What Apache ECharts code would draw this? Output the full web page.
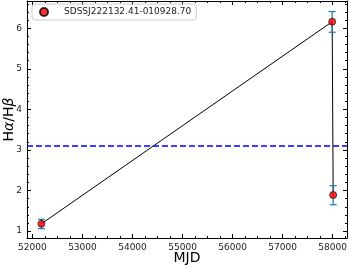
<!DOCTYPE html>
<html><head><meta charset="utf-8">
<script src="https://cdn.jsdelivr.net/npm/echarts@6/dist/echarts.min.js"></script>
<style>html,body{margin:0;padding:0;background:#fff}#c{width:349px;height:268px}</style>
</head><body><div id="c"></div>
<script>
const seriesName = 'SDSSJ222132.41-010928.70';
const mjd = [52180, 57990, 58010];
const ratio = [1.18, 6.16, 1.89];
const errLow = [1.06, 5.90, 1.65];
const errHigh = [1.29, 6.41, 2.12];
const refLine = 3.1;
const xMajor = [52000, 53000, 54000, 55000, 56000, 57000, 58000];
const xMinor = [52250, 52500, 52750, 53250, 53500, 53750, 54250, 54500, 54750, 55250, 55500, 55750, 56250, 56500, 56750, 57250, 57500, 57750, 58250];
const yMajor = [1, 2, 3, 4, 5, 6];
const yMinor = [1.2, 1.4, 1.6, 1.8, 2.2, 2.4, 2.6, 2.8, 3.2, 3.4, 3.6, 3.8, 4.2, 4.4, 4.6, 4.8, 5.2, 5.4, 5.6, 5.8, 6.2, 6.4, 6.6];
const xRange = [51892, 58286];
const yRange = [0.83, 6.67];

const pts = mjd.map((x, i) => [x, ratio[i]]);
const errs = mjd.map((x, i) => [x, errLow[i], errHigh[i]]);
const font = 'DejaVu Sans';
const lineStyle = {color: '#000', width: 1};

function ax(pos, range, vals, len, showLine, showLabel) {
  return {type: 'value', position: pos, min: range[0], max: range[1], gridIndex: 0,
    axisLine: {show: showLine, lineStyle: lineStyle},
    axisTick: {show: true, inside: true, length: len, customValues: vals, lineStyle: {color: '#000', width: 1}},
    axisLabel: {show: showLabel, customValues: vals, color: '#222', fontFamily: font, fontSize: 9, margin: 5,
      formatter: function (v) { return String(v); }},
    splitLine: {show: false}};
}
const xAxes = [ax('bottom', xRange, xMajor, 4, true, true), ax('bottom', xRange, xMinor, 2, false, false),
               ax('top', xRange, xMajor, 4, true, false), ax('top', xRange, xMinor, 2, false, false)];
Object.assign(xAxes[0], {name: 'MJD', nameLocation: 'middle', nameGap: 20, nameMoveOverlap: false,
  nameTextStyle: {fontFamily: font, fontSize: 14, color: '#000', verticalAlign: 'middle'}});
const yAxes = [ax('left', yRange, yMajor, 4, true, true), ax('left', yRange, yMinor, 2, false, false),
               ax('right', yRange, yMajor, 4, true, false), ax('right', yRange, yMinor, 2, false, false)];
Object.assign(yAxes[0], {name: '{n|H}{i|α}{n|/H}{i|β}', nameLocation: 'middle', nameGap: 18, nameRotate: 90,
  nameMoveOverlap: false,
  nameTextStyle: {verticalAlign: 'middle', rich: {
    n: {fontFamily: font, fontSize: 14, color: '#000'},
    i: {fontFamily: font, fontSize: 14, fontStyle: 'italic', color: '#000'}}}});

const chart = echarts.init(document.getElementById('c'));
chart.setOption({
  animation: false,
  backgroundColor: '#fff',
  grid: {left: 27, right: 2, top: 1, bottom: 30, containLabel: false, outerBoundsMode: 'none'},
  xAxis: xAxes,
  yAxis: yAxes,
  legend: {left: 32, top: 4, itemGap: 0, padding: [3, 5, 3, 7], borderColor: '#ccc', borderWidth: 1, borderRadius: 3,
    itemWidth: 8, itemHeight: 8, data: [{name: seriesName, icon: 'circle'}],
    textStyle: {fontFamily: font, fontSize: 9, color: '#222', padding: [0, 0, 0, 11]}},
  series: [
    {type: 'line', data: pts, xAxisIndex: 0, yAxisIndex: 0, showSymbol: false, symbol: 'none',
      lineStyle: {color: '#000', width: 1}, z: 2, silent: true,
      markLine: {silent: true, symbol: 'none', label: {show: false},
        lineStyle: {color: '#0000ff', width: 1.6, type: [6, 3]},
        data: [{yAxis: refLine}]}},
    {type: 'custom', xAxisIndex: 0, yAxisIndex: 0, data: errs, z: 3,
      renderItem: function (params, api) {
        const x = api.value(0);
        const lo = api.coord([x, api.value(1)]);
        const hi = api.coord([x, api.value(2)]);
        const w = 3.5;
        const st = {stroke: '#1f77b4', lineWidth: 1.2};
        return {type: 'group', children: [
          {type: 'line', shape: {x1: lo[0], y1: lo[1], x2: hi[0], y2: hi[1]}, style: st},
          {type: 'line', shape: {x1: lo[0] - w, y1: lo[1], x2: lo[0] + w, y2: lo[1]}, style: st},
          {type: 'line', shape: {x1: hi[0] - w, y1: hi[1], x2: hi[0] + w, y2: hi[1]}, style: st}
        ]};
      }},
    {type: 'scatter', name: seriesName, data: pts, xAxisIndex: 0, yAxisIndex: 0, symbol: 'circle', symbolSize: 7, z: 4,
      itemStyle: {color: '#ff0000', borderColor: '#000', borderWidth: 0.8}}
  ]
});
</script></body></html>
